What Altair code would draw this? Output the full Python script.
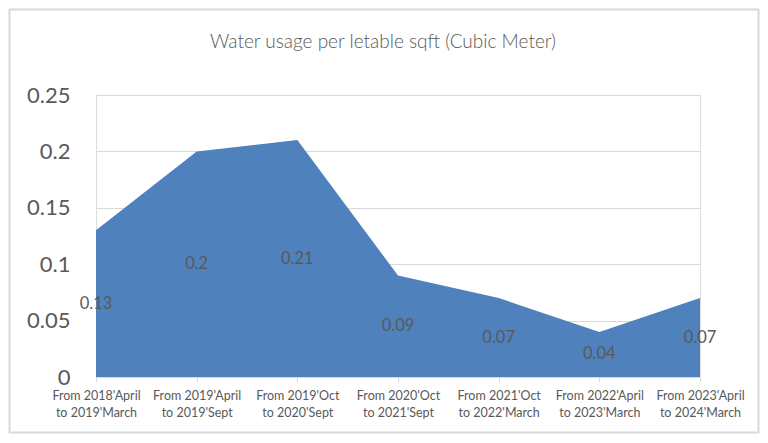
import altair as alt
import pandas as pd

periods = [
    "From 2018'April|to 2019'March",
    "From 2019'April|to 2019'Sept",
    "From 2019'Oct|to 2020'Sept",
    "From 2020'Oct|to 2021'Sept",
    "From 2021'Oct|to 2022'March",
    "From 2022'April|to 2023'March",
    "From 2023'April|to 2024'March",
]
values = [0.13, 0.2, 0.21, 0.09, 0.07, 0.04, 0.07]
y_ticks = [0, 0.05, 0.1, 0.15, 0.2, 0.25]
title_text = "Water usage per letable sqft (Cubic Meter)"

df = pd.DataFrame({"period": periods, "value": values})
title_df = pd.DataFrame({"t": [title_text]})

FONT = "Lato"
GREY = "#595959"
W, H = 604, 282

x_enc = alt.X(
    "period:N",
    sort=periods,
    scale=alt.Scale(type="point", padding=0),
    axis=alt.Axis(
        title=None,
        labelAngle=0,
        labelExpr="split(datum.label, '|')",
        labelFontSize=12.5,
        labelColor=GREY,
        labelFont=FONT,
        labelPadding=7,
        labelLineHeight=17,
        domainColor="#d9d9d9",
        tickColor="#d9d9d9",
        tickSize=5,
        grid=False,
    ),
)

area = alt.Chart(df).mark_area(color="#4f81bd", opacity=1, line=False).encode(
    x=x_enc,
    y=alt.Y(
        "value:Q",
        scale=alt.Scale(domain=[0, 0.25], nice=False),
        axis=alt.Axis(
            title=None,
            values=y_ticks,
            format=".2~f",
            labelFontSize=22,
            labelColor=GREY,
            labelFont=FONT,
            labelPadding=26,
            ticks=False,
            domain=False,
            gridColor="#d9d9d9",
            gridWidth=1.2,
        ),
    ),
)

labels = alt.Chart(df).transform_calculate(half="datum.value / 2").mark_text(
    fontSize=16.5, color=GREY, font=FONT, baseline="middle"
).encode(
    x=alt.X("period:N", sort=periods),
    y=alt.Y("half:Q"),
    text=alt.Text("value:Q", format=".2~f"),
)

title = alt.Chart(title_df).mark_text(
    fontSize=19, color=GREY, font=FONT, fontWeight=300, baseline="middle", align="center"
).encode(text="t:N", x=alt.value(287), y=alt.value(-53))

border = alt.Chart(title_df).mark_rect(
    fill=None, stroke="#d9d9d9", strokeWidth=2, clip=False
).encode(
    x=alt.value(-86.5), x2=alt.value(662.5), y=alt.value(-85.5), y2=alt.value(337.5)
)

chart = alt.layer(area, labels, title, border).properties(
    width=W,
    height=H,
    autosize=alt.AutoSizeParams(type="none"),
    padding={"left": 88, "top": 87, "right": 60, "bottom": 58},
).configure_view(stroke=None).configure(background="white")

chart.save("out.html", embed_options={"renderer": "svg", "actions": False})
